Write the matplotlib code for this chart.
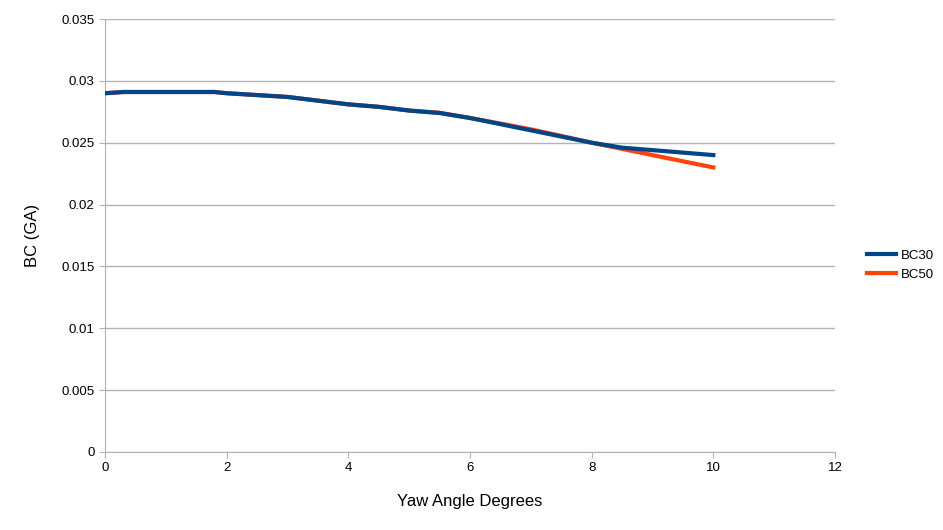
import matplotlib
matplotlib.use('Agg')
import matplotlib.pyplot as plt

plt.rcParams['font.family'] = ['Liberation Sans', 'DejaVu Sans']

# yaw angle (degrees) and ballistic coefficient for both series
yaw = [0, 0.3, 1, 1.5, 1.8, 2, 2.5, 3, 3.5, 4, 4.5, 5, 5.5, 6, 6.5, 7, 7.5, 8, 8.5, 9, 9.5, 10]
bc30 = [0.0290, 0.0291, 0.0291, 0.0291, 0.0291, 0.0290, 0.02885, 0.0287, 0.0284, 0.0281, 0.0279,
        0.0276, 0.0274, 0.0270, 0.0265, 0.0260, 0.0255, 0.0250, 0.0246, 0.0244, 0.0242, 0.0240]
bc50 = [0.0290, 0.0291, 0.0291, 0.0291, 0.0291, 0.0290, 0.02885, 0.0287, 0.0284, 0.0281, 0.0279,
        0.0276, 0.02742, 0.0270, 0.02655, 0.02608, 0.02555, 0.0250, 0.0245, 0.0240, 0.0235, 0.0230]

fig = plt.figure(figsize=(9.43, 5.30), dpi=100)
ax = fig.add_axes([105/943, 1 - 452/530, 730/943, 433/530])

l2, = ax.plot(yaw, bc50, color='#ff420e', lw=3, label='BC50', zorder=2)
l1, = ax.plot(yaw, bc30, color='#004586', lw=3, label='BC30', zorder=3)

ax.set_xlim(0, 12)
ax.set_ylim(0, 0.035)
ax.set_xticks(range(0, 13, 2))
ax.set_yticks([i * 0.005 for i in range(8)])
ax.set_yticklabels(['0', '0.005', '0.01', '0.015', '0.02', '0.025', '0.03', '0.035'])
ax.grid(axis='y', color='#b3b3b3', lw=1)
ax.set_axisbelow(True)
for s in ['top', 'right']:
    ax.spines[s].set_visible(False)
for s in ['left', 'bottom']:
    ax.spines[s].set_color('#b3b3b3')
ax.tick_params(colors='#b3b3b3', labelcolor='black', labelsize=9.5, length=4)

ax.set_xlabel('Yaw Angle Degrees', fontsize=12, labelpad=14)
ax.set_ylabel('BC (GA)', fontsize=12, labelpad=15)

fig.legend(handles=[l1, l2], loc='center left', bbox_to_anchor=(855/943, 1 - 265/530),
           frameon=False, fontsize=9.5, handlelength=2.2, handletextpad=0.4, labelspacing=0.5)

fig.savefig('out.png', dpi=100)
